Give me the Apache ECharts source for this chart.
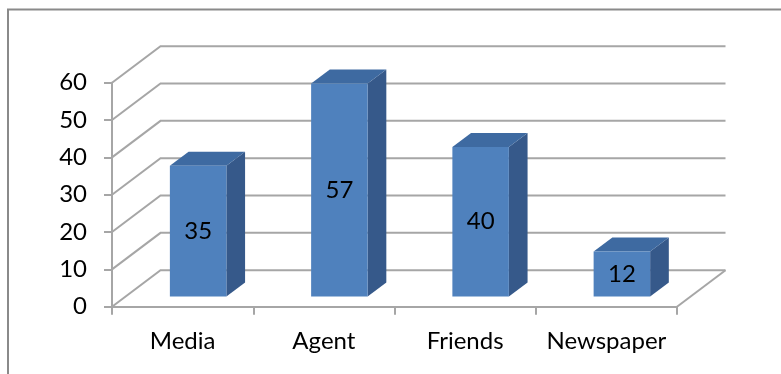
<!DOCTYPE html>
<html>
<head>
<meta charset="utf-8">
<script src="https://cdn.jsdelivr.net/npm/echarts@6/dist/echarts.min.js"></script>
<style>
  html, body { margin: 0; padding: 0; background: #ffffff; }
  #chart { width: 781px; height: 374px; }
</style>
</head>
<body>
<div id="chart"></div>
<script>
// Survey responses by source
const categories = ['Media', 'Agent', 'Friends', 'Newspaper'];
const values = [35, 57, 40, 12];
const valueTicks = [0, 10, 20, 30, 40, 50, 60];

const FONT_FAMILY = 'Lato, Carlito, "Open Sans", sans-serif';
const FONT_SIZE = 24;
const GRID_COLOR = '#a6a6a6';
// pseudo-3D offsets (pixels): wall depth, bar front plane, bar thickness
const WALL = { dx: 48.5, dy: -36.5 };
const BAR_FRONT = { dx: 15.5, dy: -10.3 };
const BAR_DEPTH = { dx: 18.7, dy: -14 };
const BAR_COLORS = { front: '#4f81bd', side: '#36598a', top: '#3e6aa1' };

const chart = echarts.init(document.getElementById('chart'), null, { renderer: 'canvas' });

// side wall, back wall and floor lines for one tick value
function renderWalls(params, api) {
  const cs = params.coordSys;
  const v = api.value(1);
  const y = api.coord([0, v])[1];
  const x0 = cs.x;
  const x1 = cs.x + cs.width;
  const lineStyle = { stroke: GRID_COLOR, lineWidth: 2, fill: null };
  const children = [{
    type: 'polyline',
    shape: { points: [[x0, y], [x0 + WALL.dx, y + WALL.dy], [x1 + WALL.dx, y + WALL.dy]] },
    style: lineStyle
  }];
  if (v === 0) {
    children.push({
      type: 'line',
      shape: { x1: x1, y1: y, x2: x1 + WALL.dx, y2: y + WALL.dy },
      style: lineStyle
    });
  }
  return { type: 'group', children: children };
}

// a box-shaped column with its value on the front face
function renderBar(params, api) {
  const idx = api.value(0);
  const v = api.value(1);
  const base = api.coord([idx, 0]);
  const top = api.coord([idx, v]);
  const w = api.size([1, 0])[0] * 0.4;
  const xl = base[0] - w / 2 + BAR_FRONT.dx;
  const xr = xl + w;
  const yb = base[1] + BAR_FRONT.dy;
  const yt = top[1] + BAR_FRONT.dy;
  const dx = BAR_DEPTH.dx, dy = BAR_DEPTH.dy;
  return {
    type: 'group',
    children: [
      {
        type: 'polygon',
        shape: { points: [[xr, yt], [xr + dx, yt + dy], [xr + dx, yb + dy], [xr, yb]] },
        style: { fill: BAR_COLORS.side }
      },
      {
        type: 'polygon',
        shape: { points: [[xl, yt], [xl + dx, yt + dy], [xr + dx, yt + dy], [xr, yt]] },
        style: { fill: BAR_COLORS.top }
      },
      {
        type: 'rect',
        shape: { x: xl, y: yt, width: w, height: yb - yt },
        style: { fill: BAR_COLORS.front }
      },
      {
        type: 'text',
        x: (xl + xr) / 2,
        y: (yt + yb) / 2,
        style: {
          text: String(v),
          fill: '#000000',
          font: FONT_SIZE + 'px ' + FONT_FAMILY,
          align: 'center',
          verticalAlign: 'middle'
        }
      }
    ]
  };
}

const option = {
  backgroundColor: '#ffffff',
  animation: false,
  graphic: [{
    type: 'rect',
    shape: { x: 8, y: 9.5, width: 800, height: 400 },
    style: { fill: null, stroke: '#8a8a8a', lineWidth: 2 },
    silent: true
  }],
  grid: { left: 112, right: 104, top: 82.7, bottom: 67.3, containLabel: false },
  xAxis: {
    type: 'category',
    data: categories,
    boundaryGap: true,
    axisLine: { show: true, lineStyle: { color: GRID_COLOR, width: 2 } },
    axisTick: { show: true, length: 8, interval: 0, lineStyle: { color: GRID_COLOR, width: 2 } },
    axisLabel: { interval: 0, margin: 23, color: '#000000', fontSize: FONT_SIZE, fontFamily: FONT_FAMILY },
    splitLine: { show: false }
  },
  yAxis: {
    type: 'value',
    min: 0,
    max: 60,
    interval: 10,
    axisLine: { show: true, lineStyle: { color: GRID_COLOR, width: 2 } },
    axisTick: { show: true, length: 8, lineStyle: { color: GRID_COLOR, width: 2 } },
    axisLabel: { margin: 25, color: '#000000', fontSize: FONT_SIZE, fontFamily: FONT_FAMILY },
    splitLine: { show: false }
  },
  series: [
    {
      type: 'custom',
      name: 'walls',
      renderItem: renderWalls,
      data: valueTicks.map(function (t) { return [0, t]; }),
      z: 1,
      silent: true
    },
    {
      type: 'custom',
      name: 'Responses',
      renderItem: renderBar,
      data: values.map(function (v, i) { return [i, v]; }),
      z: 3
    }
  ]
};

chart.setOption(option);
</script>
</body>
</html>
